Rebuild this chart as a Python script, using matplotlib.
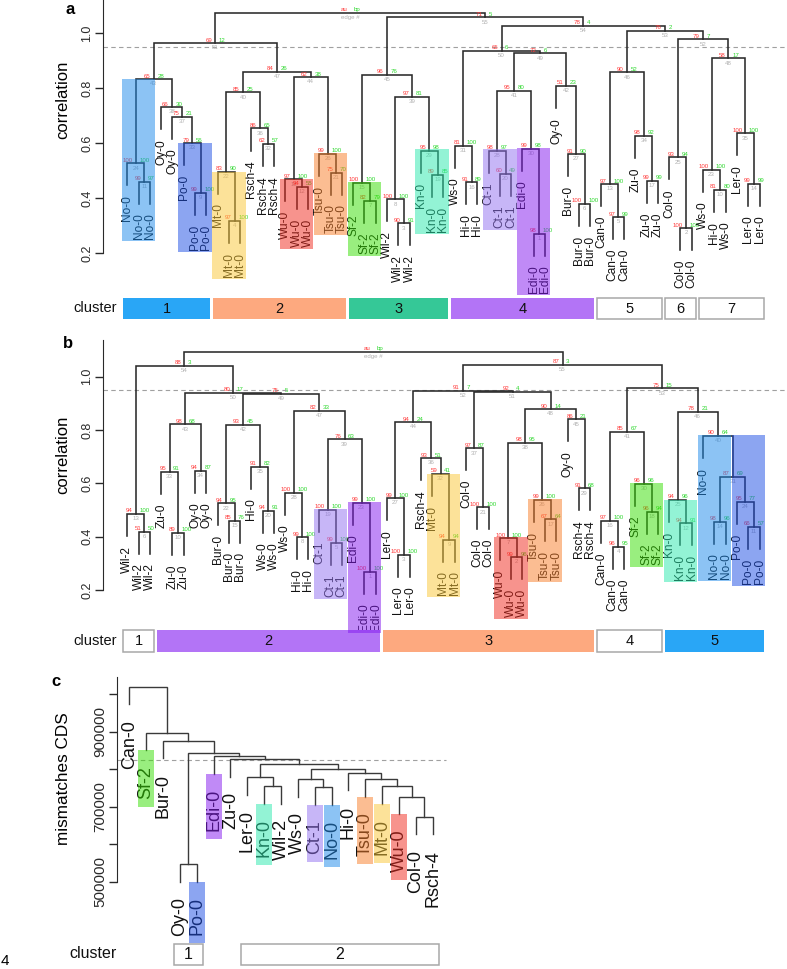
import matplotlib
matplotlib.use("Agg")
import matplotlib.pyplot as plt
from matplotlib.patches import Rectangle
from matplotlib.transforms import blended_transform_factory

plt.rcParams["font.family"] = ["Liberation Sans", "DejaVu Sans"]

# ---------------- data ----------------
# trees as newick strings: (left,right)au/bp/edge:height
a_tree = (
    "((((No-0,(No-0,No-0)99/97/11:0.459)100/100/24:0.526,"
    "(Oy-0,(Oy-0,(Po-0,(Po-0,Po-0)99/100/9:0.419)79/56/33:0.599)75/21/37:0.696)66/30/38:0.730)65/28/43:0.832,"
    "(((Mt-0,(Mt-0,Mt-0)97/100/4:0.317)83/90/22:0.496,(Rsch-4,(Rsch-4,Rsch-4)62/57/32:0.596)86/65/36:0.653)85/25/40:0.784,"
    "((Wu-0,(Wu-0,Wu-0)94/55/12:0.441)97/100/18:0.468,(Tsu-0,(Tsu-0,Tsu-0)75/70/21:0.492)99/100/26:0.560)62/38/44:0.839)84/26/47:0.859)69/12/51:0.963,"
    "(((Sf-2,(Sf-2,Sf-2)82/79/7:0.389)100/100/15:0.456,((Wil-2,(Wil-2,Wil-2)90/91/3:0.308)100/100/8:0.395,(Kn-0,(Kn-0,Kn-0)89/85/19:0.484)95/98/29:0.572)97/81/39:0.768)96/76/45:0.847,"
    "(((Ws-0,(Hi-0,Hi-0)91/89/16:0.457)81/100/31:0.589,(((Ct-1,(Ct-1,Ct-1)60/49/20:0.487)98/97/28:0.572,(Edi-0,(Edi-0,Edi-0)98/100/1:0.269)99/98/30:0.580)95/80/41:0.790,(Oy-0,(Bur-0,(Bur-0,Bur-0)100/100/6:0.378)91/90/27:0.559)51/23/42:0.807)72/6/49:0.926)65/6/50:0.936,"
    "(((Can-0,(Can-0,Can-0)97/99/5:0.330)97/100/13:0.450,(Zu-0,(Zu-0,Zu-0)99/99/17:0.463)98/92/34:0.625)90/52/46:0.857,"
    "((Col-0,(Col-0,Col-0)100/100/2:0.290)93/94/25:0.548,((Ws-0,(Hi-0,Ws-0)81/80/10:0.429)100/100/23:0.502,(Ler-0,(Ler-0,Ler-0)99/99/14:0.451)100/100/35:0.635)58/17/48:0.908)79/7/52:0.977)76/2/53:1.007)78/4/54:1.027)71/5/55:1.057)au/bp/root:1.073"
)

b_tree = (
    "(((Wil-2,(Wil-2,Wil-2)51/50/6:0.419)94/100/13:0.485,"
    "(((Zu-0,(Zu-0,Zu-0)89/100/10:0.415)95/91/33:0.644,(Oy-0,Oy-0)94/87/34:0.647)98/68/43:0.821,"
    "(((Bur-0,(Bur-0,Bur-0)85/76/15:0.460)94/95/22:0.525,(Hi-0,(Ws-0,Ws-0)94/91/20:0.497)91/82/35:0.662)93/45/42:0.819,"
    "((Ws-0,(Hi-0,Hi-0)99/100/8:0.398)100/100/28:0.565,((Ct-1,(Ct-1,Ct-1)99/100/5:0.377)100/100/19:0.500,(Edi-0,(Edi-0,Edi-0)100/100/1:0.269)99/100/23:0.527)76/63/39:0.765)82/33/47:0.872)75/5/49:0.935)80/17/50:0.940)88/3/54:1.041,"
    "((((Ler-0,(Ler-0,Ler-0)100/100/3:0.331)99/100/27:0.544,(Rsch-4,(Mt-0,(Mt-0,Mt-0)94/94/9:0.388)59/41/32:0.635)93/51/36:0.694)94/24/44:0.829,"
    "((Col-0,(Col-0,Col-0)100/100/21:0.510)97/87/37:0.731,(((Wu-0,(Wu-0,Wu-0)99/96/2:0.323)100/100/7:0.394,(Tsu-0,(Tsu-0,Tsu-0)67/64/17:0.465)99/100/26:0.537)98/95/38:0.752,(Oy-0,(Rsch-4,Rsch-4)91/68/29:0.581)86/21/45:0.840)90/14/48:0.878)92/4/51:0.942)91/7/52:0.947,"
    "(((Can-0,(Can-0,Can-0)96/95/4:0.362)97/100/16:0.459,(Sf-2,(Sf-2,Sf-2)96/94/18:0.494)96/96/30:0.597)85/67/41:0.794,"
    "((Kn-0,(Kn-0,Kn-0)94/91/12:0.450)94/96/25:0.537,(No-0,((No-0,No-0)98/96/14:0.456,(Po-0,(Po-0,Po-0)66/57/11:0.437)95/77/24:0.531)87/69/31:0.625)90/64/40:0.777)78/21/46:0.869)75/15/53:0.956)87/3/55:1.044)au/bp/root:1.094"
)

c_tree = (
    "(Can-0,(Sf-2,(Bur-0,((Oy-0,Po-0):547200,(Edi-0,(Zu-0,((Ler-0,(Kn-0,Wil-2):755200):778400,"
    "((Ws-0,(Ct-1,No-0):751700):773900,(Hi-0,(Tsu-0,(Mt-0,(Wu-0,(Col-0,Rsch-4):673300):726700)"
    ":755200):773100):790700):800500):813900):826400):835200):844000):876000):897300):1020000"
)

box_colors = {
    "No": "#1b89eb", "Po": "#1b4de5", "Mt": "#fbc735", "Wu": "#f1291d",
    "Tsu": "#f97d27", "Sf": "#35df00", "Kn": "#29e9ad", "Ct": "#916ff1",
    "Edi": "#8317ef",
}

a_box_names = ["No", "Po", "Mt", "Wu", "Tsu", "Sf", "Kn", "Ct", "Edi"]
a_box_first = [1, 6, 9, 15, 18, 21, 27, 33, 36]
a_box_last = [3, 8, 11, 17, 20, 23, 29, 35, 38]
a_box_top = [0.833, 0.601, 0.496, 0.469, 0.562, 0.457, 0.577, 0.577, 0.583]

b_box_names = ["Ct", "Edi", "Mt", "Wu", "Tsu", "Sf", "Kn", "No", "Po"]
b_box_first = [18, 21, 28, 34, 37, 46, 49, 52, 55]
b_box_last = [20, 23, 30, 36, 39, 48, 51, 54, 57]
b_box_top = [0.503, 0.531, 0.635, 0.398, 0.541, 0.600, 0.538, 0.781, 0.781]

c_box_names = ["Sf", "Po", "Edi", "Kn", "Ct", "No", "Tsu", "Mt", "Wu"]
c_box_leaf = [2, 5, 6, 9, 12, 13, 15, 16, 17]

a_cluster_names = ["1", "2", "3", "4", "5", "6", "7"]
a_cluster_first = [1, 9, 21, 30, 43, 49, 52]
a_cluster_last = [8, 20, 29, 42, 48, 51, 57]
a_cluster_fill = ["#29a6f6", "#fda97f", "#35c897", "#b374f6", None, None, None]

b_cluster_names = ["1", "2", "3", "4", "5"]
b_cluster_first = [1, 4, 24, 43, 49]
b_cluster_last = [3, 23, 42, 48, 57]
b_cluster_fill = [None, "#b374f6", "#fda97f", None, "#29a6f6"]

c_cluster_names = ["1", "2"]
c_cluster_first = [4, 8]
c_cluster_last = [5, 19]
c_cluster_fill = [None, None]

cor_ticks = [0.2, 0.4, 0.6, 0.8, 1.0]
cds_ticks = [500000, 600000, 700000, 800000, 900000, 1000000]
cds_labels = ["500000", "", "700000", "", "900000", ""]
cut_cor = 0.95
cut_cds = 824500

RED, GREEN, GREY = "#ff3b3b", "#2fd82f", "#b0b0b0"
LINE = "#2a2a2a"

W, H = 787, 969
fig = plt.figure(figsize=(W / 100, H / 100), dpi=100)


def px_axes(left, top, right, bottom):
    return fig.add_axes([left / W, 1 - bottom / H, (right - left) / W, (bottom - top) / H])


def parse_newick(s):
    pos = 0

    def read():
        nonlocal pos
        if s[pos] == "(":
            pos += 1
            left = read()
            pos += 1
            right = read()
            pos += 1
            j = pos
            while j < len(s) and s[j] not in ",)":
                j += 1
            lab, h = s[pos:j].split(":")
            pos = j
            return {"kids": [left, right], "h": float(h), "lab": lab}
        j = pos
        while s[j] not in ",)":
            j += 1
        name = s[pos:j]
        pos = j
        return {"name": name}

    return read()


def layout(root):
    leaves, hs = [], []

    def walk(n):
        if "name" in n:
            leaves.append(n)
            n["x"] = len(leaves)
            return
        hs.append(n["h"])
        for k in n["kids"]:
            walk(k)
        n["x"] = (n["kids"][0]["x"] + n["kids"][1]["x"]) / 2

    walk(root)
    hang = 0.1 * (max(hs) - min(hs))

    def drop(n):
        for k in n.get("kids", []):
            if "name" in k:
                k["h"] = n["h"] - hang
            drop(k)

    drop(root)
    return leaves


def draw_tree(ax, root, lw, color, pv):
    def rec(n):
        if "kids" not in n:
            return
        l, r = n["kids"]
        ax.plot([l["x"], l["x"], r["x"], r["x"]], [l["h"], n["h"], n["h"], r["h"]],
                color=color, lw=lw, zorder=2, solid_joinstyle="miter")
        if pv:
            au, bp, e = n["lab"].split("/")
            if e == "root":
                au, bp, e = "au", "bp", "edge #"
            kw = dict(textcoords="offset points", fontsize=4.4, zorder=3, annotation_clip=False)
            ax.annotate(au, (n["x"], n["h"]), xytext=(-2.2, 1.2), ha="right", va="baseline", color=RED, **kw)
            ax.annotate(bp, (n["x"], n["h"]), xytext=(2.6, 1.2), ha="left", va="baseline", color=GREEN, **kw)
            ax.annotate(e, (n["x"], n["h"]), xytext=(0, -1.6), ha="center", va="top", color=GREY, **kw)
        rec(l)
        rec(r)

    rec(root)


def leaf_labels(ax, leaves, size, gap):
    out = []
    for lf in leaves:
        t = ax.annotate(lf["name"], (lf["x"], lf["h"]), xytext=(0, -gap), textcoords="offset points",
                        rotation=90, ha="right", va="center", rotation_mode="anchor",
                        fontsize=size, color="#111111", annotation_clip=False, zorder=3)
        out.append(t)
    return out


def r_axis(ax, ticks, labels, lo, hi, size):
    for s in ["top", "right", "bottom"]:
        ax.spines[s].set_visible(False)
    ax.spines["left"].set_bounds(lo, hi)
    ax.spines["left"].set_color(LINE)
    ax.set_yticks(ticks)
    ax.set_yticklabels(labels, rotation=90, va="center", fontsize=size)
    ax.tick_params(axis="y", length=6, width=1, pad=1, colors=LINE)
    ax.set_xticks([])
    ax.patch.set_alpha(0)


def label_bottom(ax, t, renderer, pad_px):
    bb = t.get_window_extent(renderer)
    return ax.transData.inverted().transform((0, bb.y0 - pad_px))[1]


def clusters(ax, names, first, last, fill, y0, y1, size):
    tr = blended_transform_factory(ax.transData, ax.transAxes)
    for nm, f, l, c in zip(names, first, last, fill):
        x0, x1 = f - 0.5 + 0.13, l + 0.5 - 0.13
        if c is None:
            rect = Rectangle((x0, y0), x1 - x0, y1 - y0, transform=tr, facecolor="white",
                             edgecolor="#a8a8a8", lw=1.1, clip_on=False, zorder=4)
        else:
            rect = Rectangle((x0, y0), x1 - x0, y1 - y0, transform=tr, facecolor=c,
                             edgecolor="none", clip_on=False, zorder=4)
        ax.add_patch(rect)
        ax.text((x0 + x1) / 2, (y0 + y1) / 2, nm, transform=tr, ha="center", va="center",
                fontsize=size, color="#111111", zorder=5)


def fx(px):
    return px / W


def fy(py):
    return 1 - py / H


# ---------------- panel a ----------------
ta = parse_newick(a_tree)
la = layout(ta)
axa = px_axes(103, 0, 787, 325)
axa.set_xlim((103 - 116) / 11.29, (787 - 116) / 11.29)
axa.set_ylim(0.2 - 72 / 275, 0.2 + 253 / 275)
r_axis(axa, cor_ticks, [f"{v:.1f}" for v in cor_ticks], 0.2, 1.12, 9)
axa.axhline(cut_cor, color="#a0a0a0", lw=0.8, ls=(0, (4, 3)), zorder=1)
draw_tree(axa, ta, 1.15, LINE, True)
texts_a = leaf_labels(axa, la, 8.6, 7)

# ---------------- panel b ----------------
tb = parse_newick(b_tree)
lb = layout(tb)
axb = px_axes(103, 330, 787, 655)
axb.set_xlim((103 - 116) / 11.29, (787 - 116) / 11.29)
axb.set_ylim(0.2 - 65 / 266.7, 0.2 + 260 / 266.7)
r_axis(axb, cor_ticks, [f"{v:.1f}" for v in cor_ticks], 0.2, 1.137, 9)
axb.axhline(cut_cor, color="#a0a0a0", lw=0.8, ls=(0, (4, 3)), zorder=1)
draw_tree(axb, tb, 1.15, LINE, True)
texts_b = leaf_labels(axb, lb, 8.6, 7)

# ---------------- panel c ----------------
tc = parse_newick(c_tree)
lc = layout(tc)
axc = px_axes(117, 665, 470, 969)
axc.set_xlim((117 - 112.44) / 16.86, (470 - 112.44) / 16.86)
axc.set_ylim(500000 - 87.3 * 2666.7, 500000 + 216.7 * 2666.7)
r_axis(axc, cds_ticks, cds_labels, 500000, 1046000, 11)
axc.plot([axc.get_xlim()[0], len(lc) + 0.8], [cut_cds, cut_cds], color="#a0a0a0", lw=0.8,
         ls=(0, (4, 3)), zorder=1)
draw_tree(axc, tc, 1.0, "#3a3a3a", False)
texts_c = leaf_labels(axc, lc, 13, 11)

# ---------------- highlight boxes (drawn over labels, translucent) ----------------
fig.canvas.draw()
rend = fig.canvas.get_renderer()

for ax, leaves, texts, names, first, last, top in [
    (axa, la, texts_a, a_box_names, a_box_first, a_box_last, a_box_top),
    (axb, lb, texts_b, b_box_names, b_box_first, b_box_last, b_box_top),
]:
    for nm, f, l, t in zip(names, first, last, top):
        bottom = min(label_bottom(ax, texts[i - 1], rend, 2) for i in range(f, l + 1))
        ax.add_patch(Rectangle((f - 0.48, bottom), l - f + 0.96, t - bottom, facecolor=box_colors[nm],
                               alpha=0.5, edgecolor="none", zorder=6, clip_on=False))

for nm, i in zip(c_box_names, c_box_leaf):
    lf = lc[i - 1]
    bottom = label_bottom(axc, texts_c[i - 1], rend, 8)
    axc.add_patch(Rectangle((i - 0.47, bottom), 0.94, lf["h"] - bottom, facecolor=box_colors[nm],
                            alpha=0.5, edgecolor="none", zorder=6, clip_on=False))

# ---------------- cluster rows ----------------
clusters(axa, a_cluster_names, a_cluster_first, a_cluster_last, a_cluster_fill, 0.0185, 0.083, 10.5)
clusters(axb, b_cluster_names, b_cluster_first, b_cluster_last, b_cluster_fill, 0.0092, 0.077, 10.5)
clusters(axc, c_cluster_names, c_cluster_first, c_cluster_last, c_cluster_fill, 0.013, 0.082, 11.5)

for y, size in [(308, 10.5), (641, 10.5), (954, 11.5)]:
    fig.text(fx(117), fy(y), "cluster", ha="right", va="center", fontsize=size, color="#111111")

# ---------------- titles ----------------
fig.text(fx(63), fy(100), "correlation", rotation=90, ha="center", va="center", fontsize=12)
fig.text(fx(63), fy(455), "correlation", rotation=90, ha="center", va="center", fontsize=12)
fig.text(fx(63), fy(779), "mismatches CDS", rotation=90, ha="center", va="center", fontsize=12.3)
fig.text(fx(70), fy(9), "a", ha="center", va="center", fontsize=12, fontweight="bold")
fig.text(fx(68), fy(344), "b", ha="center", va="center", fontsize=12, fontweight="bold")
fig.text(fx(56), fy(681), "c", ha="center", va="center", fontsize=12, fontweight="bold")
fig.text(fx(5), fy(961), "4", ha="center", va="center", fontsize=11)

fig.savefig("out.png", dpi=100)
